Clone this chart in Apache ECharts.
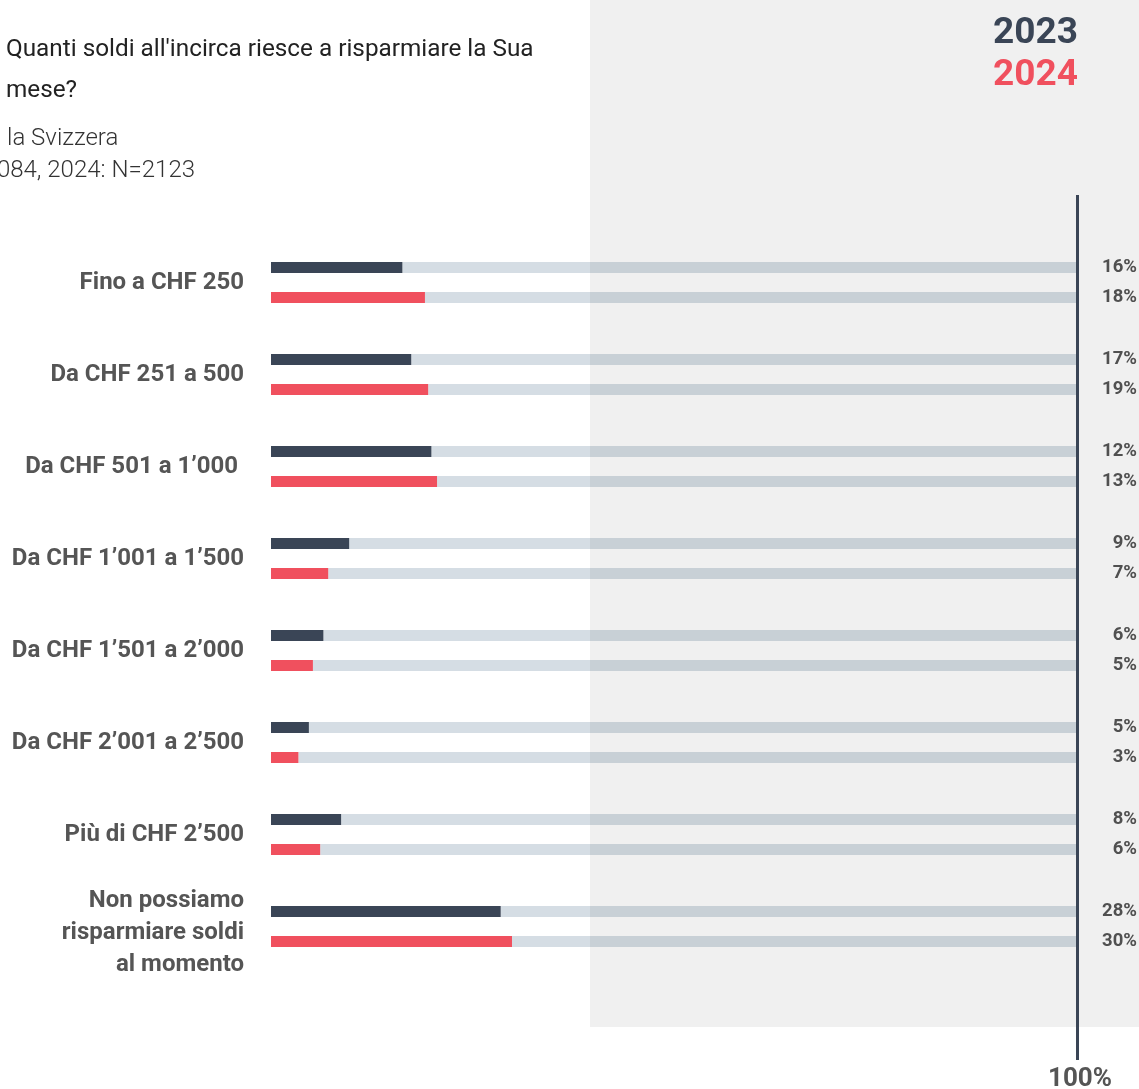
<!DOCTYPE html>
<html>
<head>
<meta charset="utf-8">
<script src="https://cdn.jsdelivr.net/npm/echarts@6/dist/echarts.min.js"></script>
<style>
html,body{margin:0;padding:0;background:#fff;}
#chart{width:1139px;height:1089px;}
</style>
</head>
<body>
<div id="chart"></div>
<script>
// Categories (top to bottom)
const categories = [
  "Fino a CHF 250",
  "Da CHF 251 a 500",
  "Da CHF 501 a 1’000 ",
  "Da CHF 1’001 a 1’500",
  "Da CHF 1’501 a 2’000",
  "Da CHF 2’001 a 2’500",
  "Più di CHF 2’500",
  "Non possiamo\nrisparmiare soldi\nal momento"
];
// Bar lengths as drawn in the picture (% of the 100% track)
const bars2023 = [16.3, 17.4, 19.9, 9.7, 6.5, 4.7, 8.7, 28.5];
const bars2024 = [19.1, 19.5, 20.6, 7.1, 5.2, 3.4, 6.1, 29.9];
// Value labels printed at the right
const labels2023 = [16, 17, 12, 9, 6, 5, 8, 28];
const labels2024 = [18, 19, 13, 7, 5, 3, 6, 30];
const years = ["2023", "2024"];
const trackMax = 100;

const DARK = "#3a4556", RED = "#f0505e", TRACK = "#d5dde4", GREY = "#555555";
const rest = arr => arr.map(v => trackMax - v);

const chart = echarts.init(document.getElementById('chart'), null, {renderer: 'canvas'});
const restLabel = (labs) => ({
  show: true, position: 'right', distance: 60, align: 'right',
  fontFamily: 'Roboto', fontWeight: 'bold', fontSize: 18.5, color: GREY,
  padding: [3, 0, 0, 0],
  formatter: p => labs[p.dataIndex] + '%'
});

chart.setOption({
  animation: false,
  backgroundColor: '#ffffff',
  grid: {left: 271, right: 62, top: 236.5, bottom: 116.5, containLabel: false},
  xAxis: {type: 'value', min: 0, max: trackMax, show: false},
  yAxis: {
    type: 'category', data: categories, inverse: true,
    axisLine: {show: false}, axisTick: {show: false}, splitLine: {show: false},
    axisLabel: {
      margin: 27, fontFamily: 'Roboto', fontWeight: 'bold', fontSize: 24, color: GREY, lineHeight: 32, align: 'right',
      formatter: v => v.indexOf('\n') >= 0 ? '{s| }\n' + v : v,
      rich: {s: {fontSize: 1, lineHeight: 12, height: 12}}
    }
  },
  series: [
    {name: years[0], type: 'bar', stack: 'y2023', data: bars2023, barWidth: 11, barGap: '173%', itemStyle: {color: DARK}, z: 3},
    {name: years[0] + 'r', type: 'bar', stack: 'y2023', data: rest(bars2023), barWidth: 11, barGap: '173%', itemStyle: {color: TRACK}, label: restLabel(labels2023), z: 2},
    {name: years[1], type: 'bar', stack: 'y2024', data: bars2024, barWidth: 11, barGap: '173%', itemStyle: {color: RED}, z: 3},
    {name: years[1] + 'r', type: 'bar', stack: 'y2024', data: rest(bars2024), barWidth: 11, barGap: '173%', itemStyle: {color: TRACK}, label: restLabel(labels2024), z: 2}
  ],
  graphic: [
    {type: 'rect', z: 50, silent: true, shape: {x: 590, y: 0, width: 549, height: 1027}, style: {fill: 'rgba(0,0,0,0.058)'}},
    {type: 'rect', z: 60, silent: true, shape: {x: 1076, y: 195, width: 3, height: 865}, style: {fill: DARK}},
    {type: 'text', z: 70, x: 6, y: 50, style: {text: "Quanti soldi all'incirca riesce a risparmiare la Sua", font: '400 24.3px Roboto', fill: '#222222', textVerticalAlign: 'middle'}},
    {type: 'text', z: 70, x: 6, y: 91, style: {text: "mese?", font: '400 24.3px Roboto', fill: '#222222', textVerticalAlign: 'middle'}},
    {type: 'text', z: 70, x: 7, y: 139, style: {text: "la Svizzera", font: '300 24px Roboto', fill: '#333333', textVerticalAlign: 'middle'}},
    {type: 'text', z: 70, x: 195, y: 171, style: {text: "2023: N=2084, 2024: N=2123", font: '300 24px Roboto', fill: '#333333', textAlign: 'right', textVerticalAlign: 'middle'}},
    {type: 'text', z: 70, x: 1078, y: 34, style: {text: years[0], font: 'bold 37px Roboto', fill: DARK, textAlign: 'right', textVerticalAlign: 'middle'}},
    {type: 'text', z: 70, x: 1078, y: 76, style: {text: years[1], font: 'bold 37px Roboto', fill: RED, textAlign: 'right', textVerticalAlign: 'middle'}},
    {type: 'text', z: 70, x: 1080, y: 1079, style: {text: "100%", font: 'bold 26px Roboto', fill: GREY, textAlign: 'center', textVerticalAlign: 'middle'}}
  ]
});
</script>
</body>
</html>
